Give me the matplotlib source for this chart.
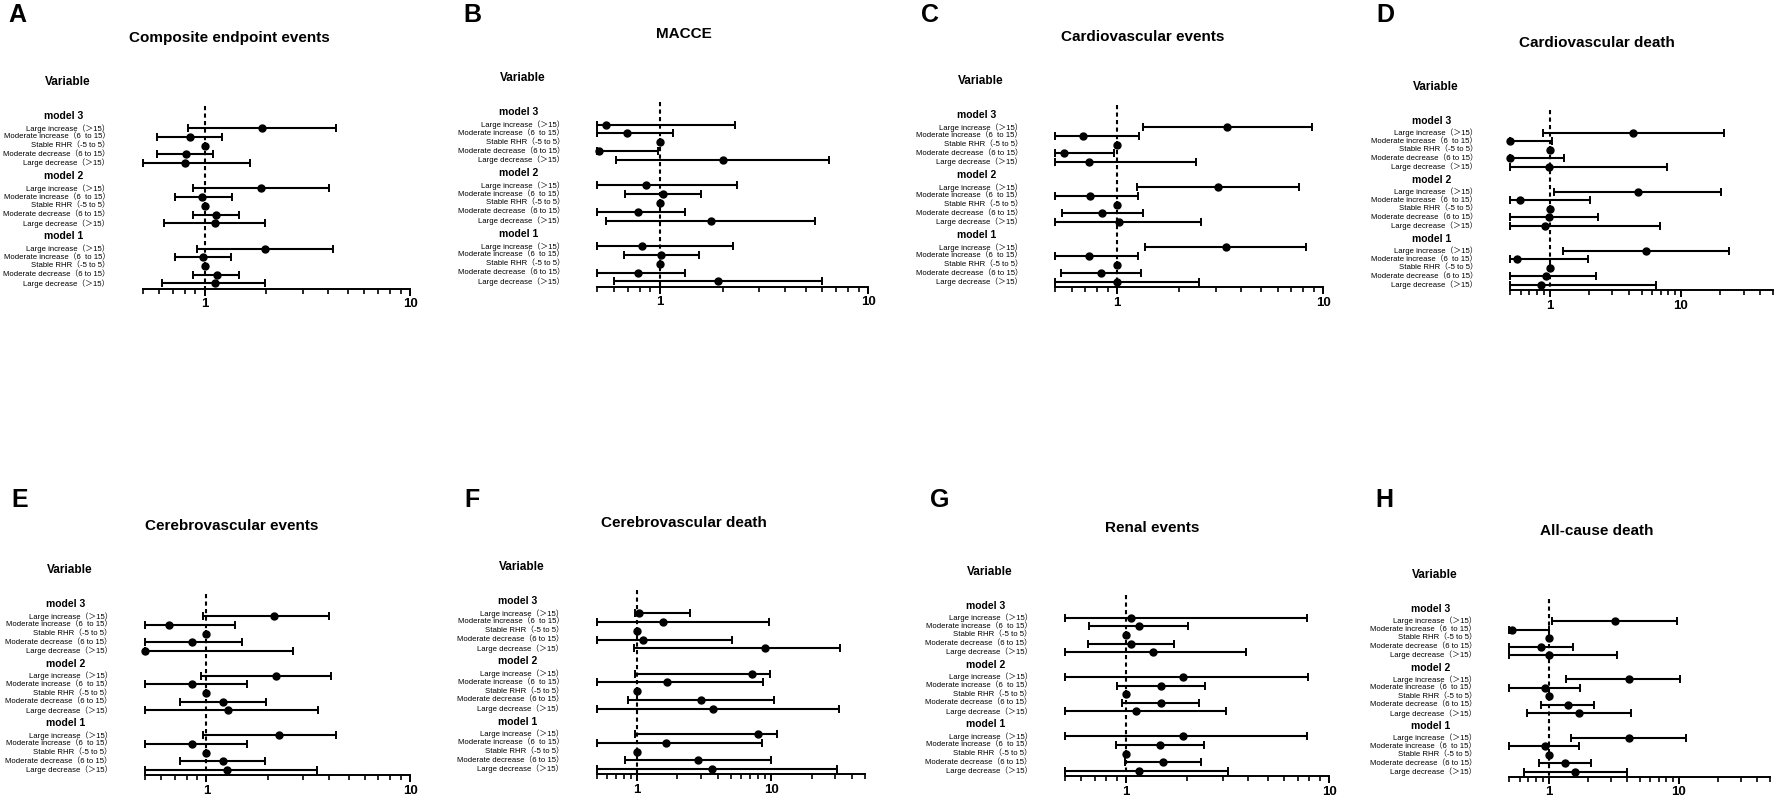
import numpy as np
import matplotlib.pyplot as plt
from matplotlib.ticker import NullFormatter
from matplotlib.transforms import blended_transform_factory

plt.rcParams['font.family'] = ['Liberation Sans', 'Noto Sans CJK SC', 'DejaVu Sans']

rows = ["Large increase（＞15）", "Moderate increase（6  to 15）", "Stable RHR（-5 to 5）",
        "Moderate decrease（6 to 15）", "Large decrease（＞15）"]
models = ["model 3", "model 2", "model 1"]
letters = ["A", "B", "C", "D", "E", "F", "G", "H"]
titles = ["Composite endpoint events", "MACCE", "Cardiovascular events", "Cardiovascular death",
          "Cerebrovascular events", "Cerebrovascular death", "Renal events", "All-cause death"]

# hazard ratios, rows per model (model 3, model 2, model 1)
a_hr = [[1.91, 0.848, 1, 0.811, 0.802], [1.89, 0.974, 1, 1.14, 1.119], [1.97, 0.978, 1, 1.144, 1.119]]
a_lo = [[0.832, 0.588, 1, 0.588, 0.5], [0.88, 0.719, 1, 0.88, 0.638], [0.921, 0.719, 1, 0.88, 0.624]]
a_hi = [[4.37, 1.22, 1, 1.094, 1.67], [4.04, 1.354, 1, 1.476, 1.98], [4.21, 1.344, 1, 1.476, 1.976]]

b_hr = [[0.55, 0.692, 1, 0.511, 2.0], [0.853, 1.03, 1, 0.781, 1.75], [0.82, 1.007, 1, 0.781, 1.905]]
b_lo = [[0.5, 0.5, 1, 0.5, 0.613], [0.5, 0.682, 1, 0.5, 0.55], [0.5, 0.672, 1, 0.5, 0.601]]
b_hi = [[2.29, 1.159, 1, 0.98, 6.5], [2.33, 1.567, 1, 1.318, 5.55], [2.25, 1.54, 1, 1.318, 6.01]]

c_hr = [[3.42, 0.681, 1, 0.549, 0.731], [3.09, 0.74, 1, 0.843, 1.019], [3.37, 0.731, 1, 0.83, 1.0]]
c_lo = [[1.337, 0.5, 1, 0.5, 0.5], [1.24, 0.5, 1, 0.541, 0.5], [1.362, 0.5, 1, 0.531, 0.5]]
c_hi = [[8.78, 1.274, 1, 0.967, 2.40], [7.65, 1.255, 1, 1.327, 2.54], [8.24, 1.265, 1, 1.303, 2.49]]

d_hr = [[4.32, 0.5, 1, 0.5, 0.98], [4.69, 0.596, 1, 0.994, 0.927], [5.43, 0.566, 1, 0.943, 0.853]]
d_lo = [[0.884, 0.5, 1, 0.5, 0.5], [1.086, 0.5, 1, 0.5, 0.5], [1.265, 0.5, 1, 0.5, 0.5]]
d_hi = [[21.1, 1.036, 1, 1.287, 7.86], [20.2, 2.01, 1, 2.34, 6.95], [23.4, 1.95, 1, 2.26, 6.4]]

e_hr = [[2.14, 0.658, 1, 0.847, 0.5], [2.2, 0.847, 1, 1.208, 1.278], [2.27, 0.847, 1, 1.208, 1.268]]
e_lo = [[0.963, 0.5, 1, 0.5, 0.5], [0.945, 0.5, 1, 0.745, 0.5], [0.963, 0.5, 1, 0.745, 0.5]]
e_hi = [[4.01, 1.389, 1, 1.498, 2.65], [4.09, 1.59, 1, 1.959, 3.55], [4.31, 1.59, 1, 1.943, 3.5]]

f_hr = [[1.029, 1.554, 1, 1.115, 9.02], [7.21, 1.675, 1, 2.99, 3.69], [8.0, 1.646, 1, 2.84, 3.61]]
f_lo = [[0.966, 0.5, 1, 0.5, 0.955], [0.972, 0.5, 1, 0.862, 0.5], [0.972, 0.5, 1, 0.814, 0.5]]
f_hi = [[2.46, 9.61, 1, 5.06, 32.3], [9.72, 8.66, 1, 10.5, 32.0], [11.0, 8.57, 1, 9.89, 31.1]]

g_hr = [[1.062, 1.155, 1, 1.062, 1.358], [1.916, 1.487, 1, 1.487, 1.12], [1.9, 1.47, 1, 1.52, 1.155]]
g_lo = [[0.5, 0.66, 1, 0.65, 0.5], [0.5, 0.9, 1, 0.959, 0.5], [0.5, 0.889, 1, 0.989, 0.5]]
g_hi = [[7.76, 2.01, 1, 1.72, 3.89], [7.85, 2.45, 1, 2.30, 3.11], [7.76, 2.42, 1, 2.34, 3.19]]

h_hr = [[3.22, 0.529, 1, 0.878, 1.0], [4.12, 0.943, 1, 1.4, 1.70], [4.12, 0.943, 1, 1.343, 1.61]]
h_lo = [[1.067, 0.5, 1, 0.5, 0.5], [1.35, 0.5, 1, 0.878, 0.685], [1.485, 0.5, 1, 0.838, 0.646]]
h_hi = [[9.66, 1.0, 1, 1.53, 3.37], [10.2, 1.74, 1, 2.23, 4.27], [11.4, 1.71, 1, 2.13, 4.03]]

x_max = [10, 10, 10, 50, 10, 50, 10, 50]

hrs = [a_hr, b_hr, c_hr, d_hr, e_hr, f_hr, g_hr, h_hr]
los = [a_lo, b_lo, c_lo, d_lo, e_lo, f_lo, g_lo, h_lo]
his = [a_hi, b_hi, c_hi, d_hi, e_hi, f_hi, g_hi, h_hi]

# layout in pixels: axis left, axis right, "model 3" row y, axis y
layout = [(142.7, 410, 116, 288.7), (597.3, 868.3, 112.3, 286.7),
          (1055.3, 1323.3, 115, 287.3), (1510.3, 1772.7, 120.7, 290),
          (145, 410, 604.3, 775), (596.7, 865, 601, 774.3),
          (1065, 1329, 605.7, 776), (1509.3, 1770, 609.3, 776.7)]

W, H = 1776, 797
fig = plt.figure(figsize=(W / 100, H / 100), dpi=100)

y_top, y_bot = -1.2, 19.8
group = 6.9

for k in range(8):
    x0, x1, h3, yax = layout[k]
    ppu = (yax - h3) / y_bot
    top_px = h3 + y_top * ppu
    ax = fig.add_axes([x0 / W, 1 - yax / H, (x1 - x0) / W, (yax - top_px) / H])
    ax.set_xscale('log')
    ax.set_xlim(0.5, x_max[k])
    ax.set_ylim(y_bot, y_top)

    for s in ['left', 'right', 'top']:
        ax.spines[s].set_visible(False)
    ax.spines['bottom'].set_linewidth(1.4)
    ax.set_yticks([])

    ax.set_xticks([1, 10], labels=['1', '10'])
    minor = [v for v in [0.5, 0.6, 0.7, 0.8, 0.9, 2, 3, 4, 5, 6, 7, 8, 9, 20, 30, 40, 50]
             if v <= x_max[k]]
    ax.set_xticks(minor, minor=True)
    ax.xaxis.set_minor_formatter(NullFormatter())
    ax.tick_params(axis='x', which='major', length=5, width=1.4, pad=2,
                   labelsize=9.5)
    ax.tick_params(axis='x', which='minor', length=3.5, width=1.2)
    for t in ax.get_xticklabels():
        t.set_fontweight('bold')

    ax.plot([1, 1], [y_top, y_bot], color='black', lw=1.5,
            linestyle=(0, (2, 1.6)), zorder=1)

    tr = blended_transform_factory(ax.transAxes, ax.transData)
    w_px = x1 - x0
    for g in range(3):
        yh = g * group
        ax.text(-79 / w_px, yh, models[g], transform=tr, ha='center', va='center',
                fontsize=7.5, fontweight='bold')
        ys = yh + 1.4 + np.arange(5)
        hr = np.array(hrs[k][g])
        lo = np.array(los[k][g])
        hi = np.array(his[k][g])
        cont = ax.errorbar(hr, ys, xerr=[hr - lo, hi - hr], fmt='o', color='black',
                           ms=5.0, elinewidth=1.5, capsize=2.6, capthick=1.4, zorder=3)
        for child in cont.get_children():
            child.set_clip_on(False)
        for i in range(5):
            ax.text(-33 / w_px, ys[i], rows[i], transform=tr, ha='right', va='center',
                    fontsize=5.6)

    fig.text((x0 - 75) / W, 1 - (h3 - 34) / H, "Variable", ha='center', va='center',
             fontsize=8.5, fontweight='bold')
    fig.text((x0 + 87) / W, 1 - (h3 - 78) / H, titles[k], ha='center', va='center',
             fontsize=11, fontweight='bold')
    fig.text((x0 - 125) / W, 1 - (15 if k < 4 else 500) / H, letters[k], ha='center',
             va='center', fontsize=18, fontweight='bold')

fig.savefig("out.png", dpi=100)
